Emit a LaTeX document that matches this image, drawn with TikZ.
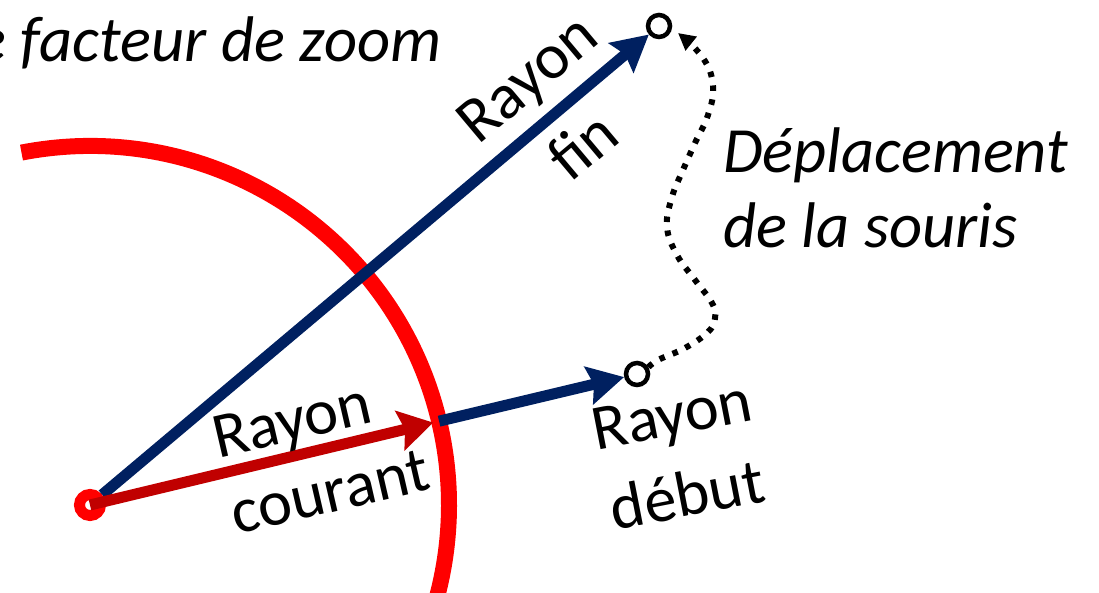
\documentclass[tikz,border=0pt]{standalone}
\usepackage{fontspec}
\setmainfont{Carlito}
\usetikzlibrary{arrows.meta,calc}
\definecolor{navy}{HTML}{002060}
\definecolor{darkred}{HTML}{C00000}
\definecolor{brightred}{HTML}{FF0000}
\tikzset{
  lbl/.style={font=\fontsize{64.5}{76}\selectfont, inner sep=0pt},
  ilbl/.style={font=\fontsize{64.5}{76}\selectfont\itshape, inner sep=0pt, anchor=base west},
  bluearrow/.style={navy, line width=11pt, -{Stealth[length=36pt,width=38pt,inset=5pt]}},
  redarrow/.style={darkred, line width=11pt, -{Stealth[length=34pt,width=40pt,inset=5pt]}},
  endpt/.style={circle, draw=black, line width=4.5pt, minimum size=22pt, inner sep=0pt},
  dotline/.style={black, line width=6pt, dash pattern=on 5.5pt off 8.5pt, -{Triangle[length=17pt,width=17pt]}}
}
\begin{document}
\begin{tikzpicture}[x=1pt,y=1pt]
\useasboundingbox (0,0) rectangle (1099,593);
\clip (0,0) rectangle (1099,593);
\coordinate (O) at (90,88);
% red circle arc
\draw[brightred, line width=16pt] (O) ++(101:359pt) arc[start angle=101, end angle=-40, radius=359pt];
\coordinate (P) at ($(O)+(13.5:359pt)$);
% origin
\node[circle, draw=brightred, line width=11pt, minimum size=21pt, inner sep=0pt] (o) at (O) {};
% end points
\node[endpt] (T) at (659,567) {};
\node[endpt] (B) at (637,219) {};
\coordinate (Tt) at (678,560);
% arrows
\draw[bluearrow] (o) -- (T);
\draw[redarrow, shorten >=6pt] (o.center) -- (P);
\draw[bluearrow] (P) -- (B);
% mouse movement
\draw[dotline] plot[smooth, tension=0.7] coordinates {(B.30) (658,233) (685,245) (708,261) (715,275) (712,290) (695,313) (677,338) (667,366) (672,396) (683,423) (695,450) (708,478) (713,507) (703,535) (Tt)};
% labels
\node[ilbl] (title) at (-25,531) {e facteur de zoom};
\node[lbl, rotate=40] (rf1) at (530,511) {Rayon};
\node[lbl, rotate=40] (rf2) at (582,448) {fin};
\node[ilbl] (dep1) at (723,420) {Déplacement};
\node[ilbl] (dep2) at (723,345) {de la souris};
\node[lbl, rotate=13] (rc1) at (293,168) {Rayon};
\node[lbl, rotate=13] (rc2) at (330,101) {courant};
\node[lbl, rotate=11] (rd1) at (673,173) {Rayon};
\node[lbl, rotate=11] (rd2) at (687,99) {début};
\end{tikzpicture}
\end{document}
